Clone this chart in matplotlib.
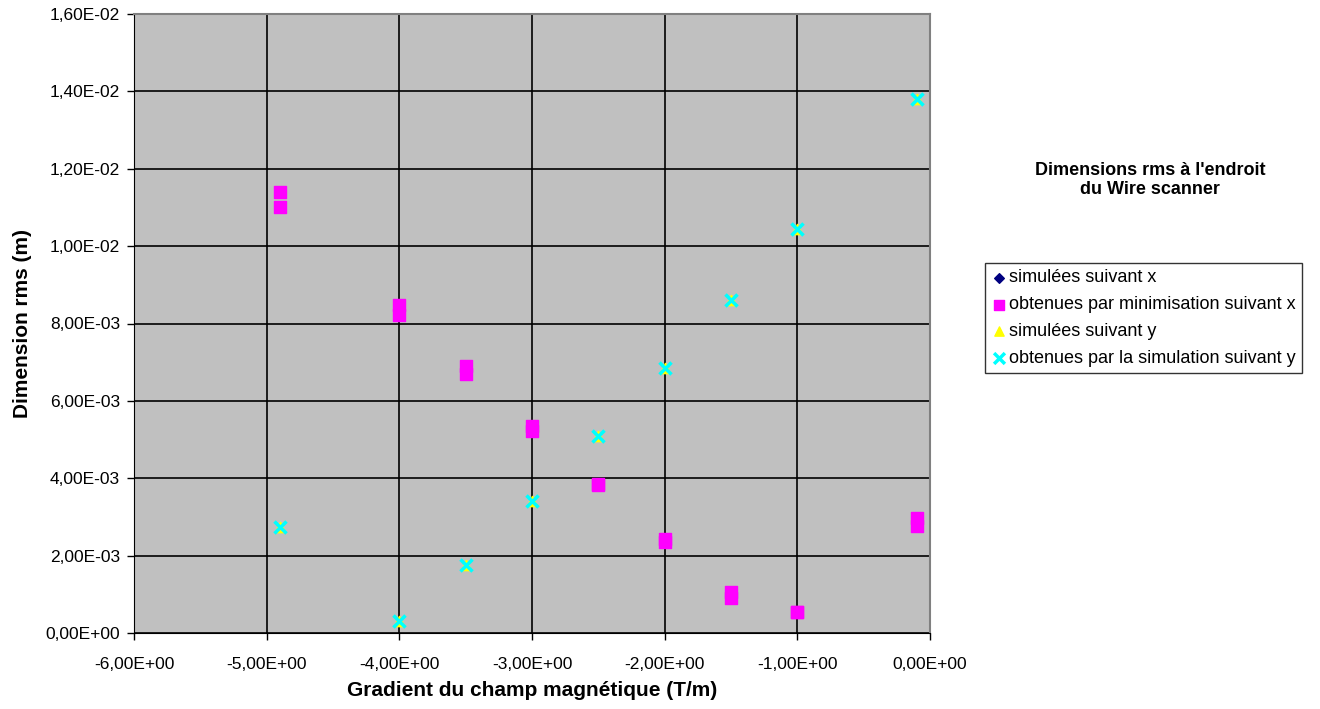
import matplotlib
matplotlib.use('Agg')
import matplotlib.pyplot as plt
from matplotlib.ticker import FuncFormatter, MultipleLocator

plt.rcParams['font.family'] = ['Liberation Sans', 'DejaVu Sans']

# gradient du champ (T/m)
grad = [-4.9, -4.0, -3.5, -3.0, -2.5, -2.0, -1.5, -1.0, -0.1]

# simulées suivant x
sim_x = [0.01101, 0.00822, 0.00672, 0.00522, 0.00382, 0.00238, 0.00106, 0.00053, 0.00276]
# obtenues par minimisation suivant x (deux valeurs par gradient)
min_x_a = [0.0114, 0.00848, 0.0069, 0.00535, 0.00385, 0.00242, 0.00106, 0.00055, 0.00297]
min_x_b = [0.01101, 0.00822, 0.00670, 0.00522, 0.00382, 0.00236, 0.00090, 0.00053, 0.00276]
# simulées suivant y
sim_y = [0.00274, 0.00031, 0.00176, 0.00341, 0.0051, 0.00685, 0.0086, 0.01044, 0.0138]
# obtenues par la simulation suivant y
simu_y = [0.00274, 0.00031, 0.00176, 0.00341, 0.0051, 0.00685, 0.0086, 0.01044, 0.0138]

fig = plt.figure(figsize=(13.2, 7.09), dpi=100)
ax = fig.add_axes([134/1320, 1-633/709, (930-134)/1320, (633-14)/709])
ax.set_facecolor('#C0C0C0')

ax.scatter(grad, sim_x, marker='D', s=30, color='#000080', zorder=3,
           label='simulées suivant x')
ax.scatter(grad + grad, min_x_a + min_x_b, marker='s', s=72, color='#FF00FF',
           zorder=4, label='obtenues par minimisation suivant x')
ax.scatter(grad, sim_y, marker='^', s=55, color='#FFFF00', zorder=3,
           label='simulées suivant y')
ax.scatter(grad, simu_y, marker='x', s=75, color='#00FFFF', linewidths=2.5,
           zorder=5, label='obtenues par la simulation suivant y')

ax.set_xlim(-6, 0)
ax.set_ylim(0, 0.016)
ax.xaxis.set_major_locator(MultipleLocator(1))
ax.yaxis.set_major_locator(MultipleLocator(0.002))

fmt = FuncFormatter(lambda v, p: '{:.2E}'.format(0 if abs(v) < 1e-12 else v).replace('.', ','))
ax.xaxis.set_major_formatter(fmt)
ax.yaxis.set_major_formatter(fmt)
ax.tick_params(labelsize=12.5, direction='out', length=5, color='black', width=1, pad=5)
ax.tick_params(axis='x', pad=12)

ax.grid(True, color='black', linewidth=1.2)
ax.set_axisbelow(True)
for s in ['top', 'right']:
    ax.spines[s].set_color('#808080')
    ax.spines[s].set_linewidth(1.5)
for s in ['left', 'bottom']:
    ax.spines[s].set_color('black')

ax.set_xlabel('Gradient du champ magnétique (T/m)', fontsize=15, fontweight='bold', labelpad=7)
ax.set_ylabel('Dimension rms (m)', fontsize=15, fontweight='bold', labelpad=10)

fig.text(1150/1320, 1-180/709, "Dimensions rms à l'endroit\ndu Wire scanner",
         ha='center', va='center', fontsize=13, fontweight='bold', linespacing=1.15)

leg = fig.legend(loc='upper left', bbox_to_anchor=(985/1320, 1-263/709),
                 fontsize=13, frameon=True, fancybox=False, edgecolor='black',
                 handletextpad=0.1, handlelength=0.9, borderpad=0.35,
                 labelspacing=0.55, markerscale=0.9, borderaxespad=0)
leg.get_frame().set_linewidth(1)

fig.savefig('out.png', dpi=100)
